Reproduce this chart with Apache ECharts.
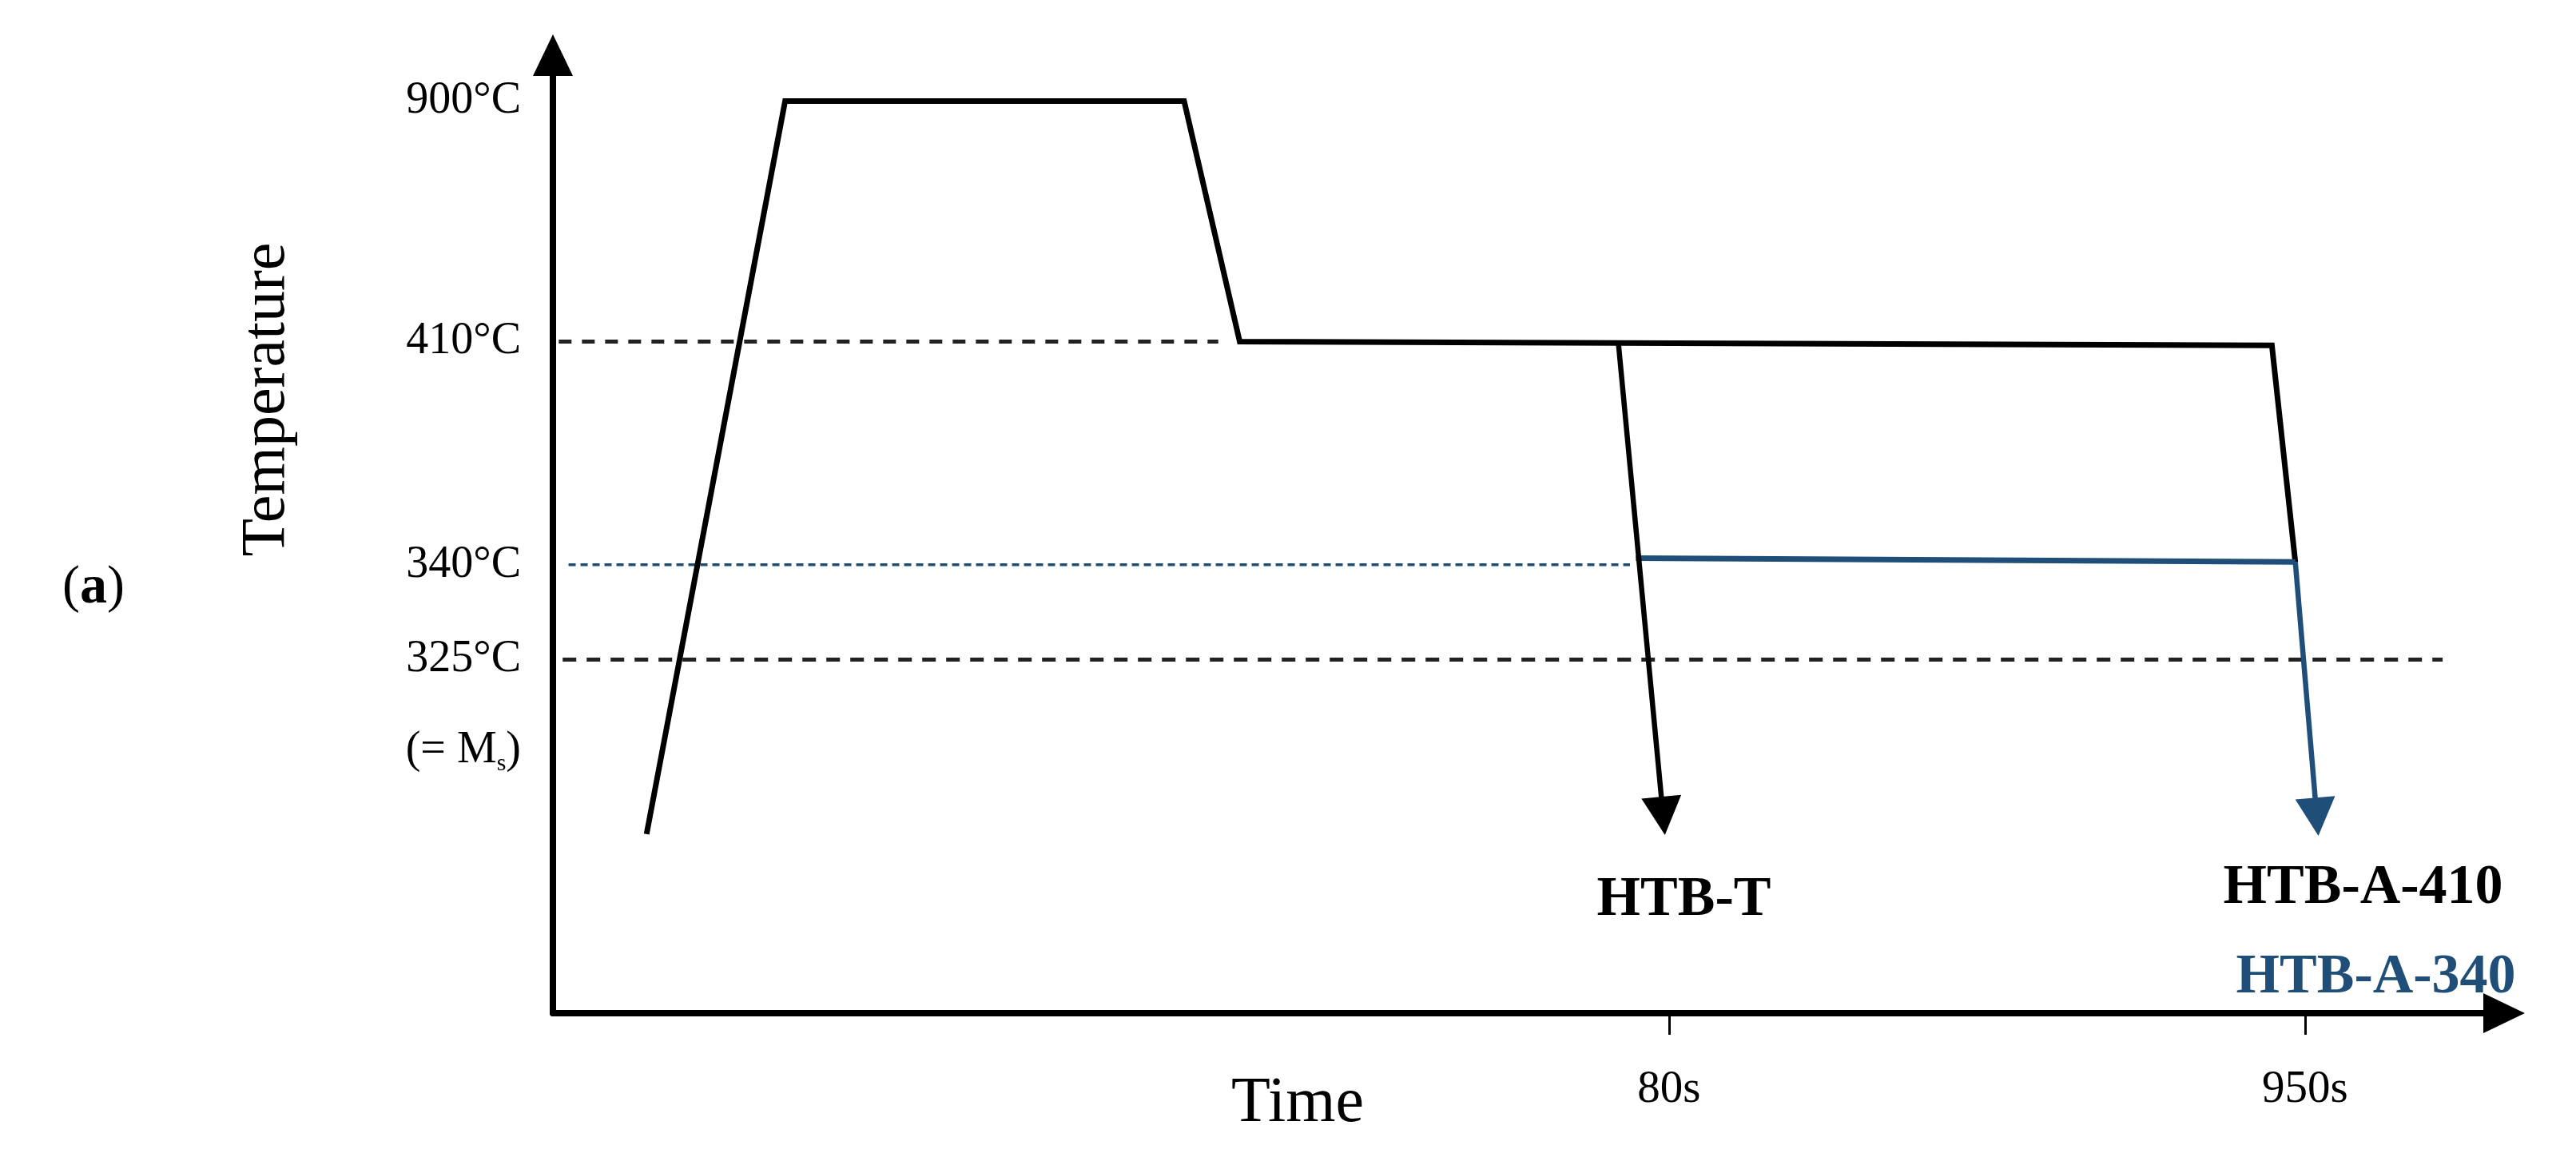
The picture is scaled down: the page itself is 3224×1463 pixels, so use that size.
<!DOCTYPE html>
<html>
<head>
<meta charset="utf-8">
<title>Heat treatment schedule (a)</title>
<script src="https://cdn.jsdelivr.net/npm/echarts@6/dist/echarts.min.js"></script>
<style>
html, body { margin: 0; padding: 0; background: #fff; }
#chart { width: 3224px; height: 1463px; }
</style>
</head>
<body>
<div id="chart"></div>
<script>
// schematic diagram: both axes are 0..100 "drawing units", not real time / temperature
const profileX = [4.8, 11.9, 32.35, 35.2, 88.1, 89.3];
const profileY = [18.7, 95.2, 95.2, 70.1, 69.7, 47.1];

// HTB-T quench from the 410 hold (start -> arrow head)
const htbTArrow = [[54.6, 70.1], [56.9, 20.6]];
// second hold at 340 and its quench
const blueHoldX = [55.5, 89.3];
const blueHoldY = [47.5, 47.1];
const blueArrow = [[89.3, 47.1], [90.4, 20.5]];

// dashed guide lines: [xStart, xEnd, level]
const guide410 = [0.3, 34.1, 70.1];
const guide340 = [0.8, 55.2, 46.8];
const guide325 = [0.5, 96.85, 36.9];

const tempTicks = [95.2, 70.1, 46.8, 36.9, 27.4];
const tempLabels = ['900°C', '410°C', '340°C', '325°C', '(= M{s|s})'];
const timeTicks = [57.2, 89.8];
const timeLabels = ['80s', '950s'];

const endNames = ['HTB-T', 'HTB-A-410', 'HTB-A-340'];

const BLUE = '#1f4e79';
const SERIF = '"Liberation Serif", "DejaVu Serif", serif';

function zip(xs, ys) {
    return xs.map((x, i) => [x, ys[i]]);
}
function guideData(g) {
    return [[g[0], g[2]], [g[1], g[2]]];
}
function arrowLine(pts, color) {
    return {
        silent: true,
        animation: false,
        symbol: ['none', 'triangle'],
        symbolSize: [50, 48],
        label: { show: false },
        emphasis: { disabled: true },
        lineStyle: { color: color, width: 6.5, type: 'solid', cap: 'butt' },
        data: [[{ coord: pts[0] }, { coord: pts[1] }]]
    };
}

const chart = echarts.init(document.getElementById('chart'));

const option = {
    backgroundColor: '#fff',
    animation: false,
    grid: { left: 692, right: 90, top: 69, bottom: 195, containLabel: false },
    xAxis: {
        type: 'value',
        min: 0,
        max: 100,
        splitLine: { show: false },
        axisLine: {
            lineStyle: { color: '#000', width: 8 },
            symbol: ['none', 'triangle'],
            symbolSize: [50, 52]
        },
        axisTick: {
            customValues: timeTicks,
            length: 27,
            lineStyle: { color: '#000', width: 3 }
        },
        axisLabel: {
            customValues: timeTicks,
            margin: 68,
            fontFamily: SERIF,
            fontSize: 57,
            color: '#000',
            formatter: v => {
                const i = timeTicks.indexOf(v);
                return i < 0 ? '' : timeLabels[i];
            }
        }
    },
    yAxis: {
        type: 'value',
        min: 0,
        max: 100,
        splitLine: { show: false },
        axisLine: {
            lineStyle: { color: '#000', width: 8 },
            symbol: ['none', 'triangle'],
            symbolSize: [50, 52]
        },
        axisTick: { show: false },
        axisLabel: {
            customValues: tempTicks,
            margin: 40,
            fontFamily: SERIF,
            fontSize: 56,
            color: '#000',
            rich: {
                s: { fontFamily: SERIF, fontSize: 30, color: '#000', padding: [34, 0, 0, 0] }
            },
            formatter: v => {
                const i = tempTicks.indexOf(v);
                return i < 0 ? '' : tempLabels[i];
            }
        }
    },
    graphic: [
        {
            type: 'text',
            x: 335, y: 500,
            rotation: Math.PI / 2,
            style: {
                text: 'Temperature', fontFamily: SERIF, fontSize: 78,
                fill: '#000', align: 'center', verticalAlign: 'middle'
            }
        },
        {
            type: 'text',
            x: 1624, y: 1382,
            style: {
                text: 'Time', fontFamily: SERIF, fontSize: 80,
                fill: '#000', align: 'center', verticalAlign: 'middle'
            }
        },
        {
            type: 'text',
            x: 117, y: 736,
            style: {
                text: '({b|a})',
                fontFamily: SERIF, fontSize: 66, fill: '#000',
                align: 'center', verticalAlign: 'middle',
                rich: { b: { fontFamily: SERIF, fontSize: 68, fontWeight: 'bold', fill: '#000' } }
            }
        }
    ],
    series: [
        {
            name: '410 guide', type: 'line', symbol: 'none', silent: true, z: 1,
            lineStyle: { color: '#222', width: 5, type: [16, 13] },
            data: guideData(guide410)
        },
        {
            name: '340 guide', type: 'line', symbol: 'none', silent: true, z: 1,
            lineStyle: { color: BLUE, width: 3.5, type: [9, 6] },
            data: guideData(guide340)
        },
        {
            name: '325 guide', type: 'line', symbol: 'none', silent: true, z: 1,
            lineStyle: { color: '#222', width: 5, type: [17, 13] },
            data: guideData(guide325)
        },
        {
            name: 'HTB-A-410', type: 'line', symbol: 'none', silent: true, z: 3,
            lineStyle: { color: '#000', width: 7, join: 'miter' },
            data: zip(profileX, profileY)
        },
        {
            name: 'HTB-T', type: 'line', symbol: 'none', silent: true, z: 3,
            data: [],
            markLine: arrowLine(htbTArrow, '#000')
        },
        {
            name: 'HTB-A-340', type: 'line', symbol: 'none', silent: true, z: 4,
            lineStyle: { color: BLUE, width: 7 },
            data: zip(blueHoldX, blueHoldY),
            markLine: arrowLine(blueArrow, BLUE)
        },
        {
            name: 'end labels', type: 'scatter', silent: true, z: 5,
            symbolSize: 1,
            itemStyle: { color: 'rgba(0,0,0,0)', opacity: 1 },
            data: [
                { value: htbTArrow[1], name: endNames[0],
                  label: { offset: [26, 106], color: '#000' } },
                { value: blueArrow[1], name: endNames[1],
                  label: { offset: [58, 90], color: '#000' } },
                { value: blueArrow[1], name: endNames[2],
                  label: { offset: [74, 202], color: BLUE } }
            ],
            label: {
                show: true,
                position: 'inside',
                formatter: p => p.name,
                fontFamily: SERIF,
                fontWeight: 'bold',
                fontSize: 70,
                align: 'center',
                verticalAlign: 'middle',
                textBorderWidth: 0
            }
        }
    ]
};

chart.setOption(option);
</script>
</body>
</html>
